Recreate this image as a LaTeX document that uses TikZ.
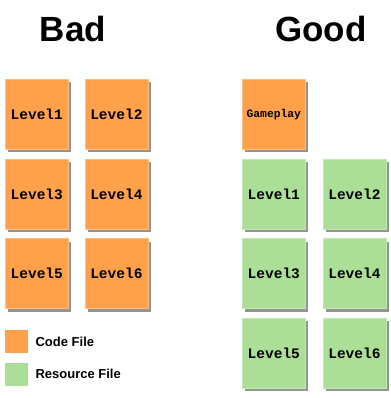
\documentclass[tikz,border=0pt]{standalone}
\usepackage{fontspec}
\setmainfont{Liberation Sans}
\setmonofont{Liberation Mono}
\usetikzlibrary{positioning, shadows}
\definecolor{codeorange}{RGB}{255,160,75}
\definecolor{resgreen}{RGB}{171,222,150}

\begin{document}
\begin{tikzpicture}[x=1pt, y=-1pt, node distance=9pt and 16pt,
  file node/.style={rectangle, minimum width=63pt, minimum height=70pt, inner sep=0pt,
    font=\ttfamily\bfseries\fontsize{14.5}{16}\selectfont,
    drop shadow={shadow xshift=3pt, shadow yshift=-3pt, fill=gray!85, opacity=1}},
  code node/.style={file node, fill=codeorange, draw=codeorange!70!white, line width=0.6pt},
  res node/.style={file node, fill=resgreen, draw=resgreen!70!white, line width=0.6pt},
  key node/.style={rectangle, minimum size=23pt, inner sep=0pt},
  key text/.style={inner sep=0pt, font=\bfseries\fontsize{13}{15}\selectfont},
  title/.style={font=\bfseries\fontsize{35}{40}\selectfont}]

\useasboundingbox (0,0) rectangle (390,398);

% headings
\node[title] (bad) at (73,29) {Bad};
\node[title] (good) at (321,29) {Good};

% bad layout
\node[code node, anchor=north west] (b1) at (5,79) {Level1};
\node[code node] (b2) [right=of b1] {Level2};
\node[code node] (b3) [below=of b1] {Level3};
\node[code node] (b4) [right=of b3] {Level4};
\node[code node] (b5) [below=of b3] {Level5};
\node[code node] (b6) [right=of b5] {Level6};

% good layout
\node[code node, anchor=north west, font=\ttfamily\bfseries\fontsize{11.3}{13}\selectfont] (gp) at (242,79) {Gameplay};
\node[res node] (g1) [below=of gp] {Level1};
\node[res node] (g2) [right=17pt of g1] {Level2};
\node[res node] (g3) [below=of g1] {Level3};
\node[res node] (g4) [right=17pt of g3] {Level4};
\node[res node] (g5) [below=of g3] {Level5};
\node[res node] (g6) [right=17pt of g5] {Level6};

% legend
\node[key node, fill=codeorange, anchor=north west] (kcode) at (5,330) {};
\node[key text] (tcode) [right=7pt of kcode] {Code File};
\node[key node, fill=resgreen] (kres) [below=9pt of kcode] {};
\node[key text] (tres) [right=7pt of kres] {Resource File};
\end{tikzpicture}
\end{document}
